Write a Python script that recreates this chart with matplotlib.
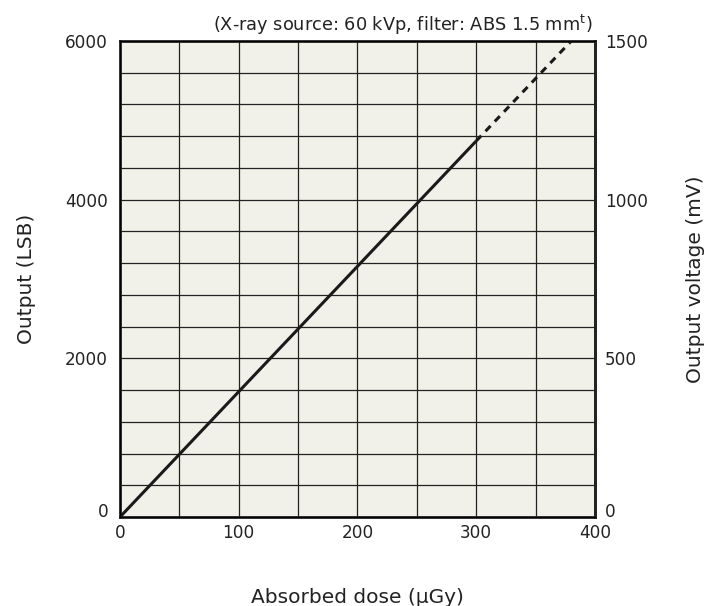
import matplotlib
matplotlib.use("Agg")
import matplotlib.pyplot as plt
import matplotlib.transforms as mtrans

# measured points (absorbed dose in uGy, output in LSB)
dose_solid = [0, 300]
lsb_solid = [0, 4740]
dose_dash = [300, 380]
lsb_dash = [4740, 6000]

x_ticks = [0, 100, 200, 300, 400]
y_ticks = [0, 2000, 4000, 6000]
mv_ticks = [0, 500, 1000, 1500]

plt.rcParams['font.family'] = ['DejaVu Sans']
ink = "#222222"

fig = plt.figure(figsize=(7.19, 6.06), dpi=100)
ax = fig.add_axes([0.1669, 0.1469, 0.6606, 0.7854])
ax.set_facecolor("#f2f1e9")

ax.plot(dose_solid, lsb_solid, color="#1a1a1a", lw=2.2, solid_capstyle="butt", zorder=3)
ax.plot(dose_dash, lsb_dash, color="#1a1a1a", lw=2.2, ls=(0, (2.4, 2.0)), zorder=3)

ax.set_xlim(0, 400)
ax.set_ylim(0, 6000)
ax.set_xticks(x_ticks, labels=[str(v) for v in x_ticks])
ax.set_xticks(range(0, 401, 50), minor=True)
ax.set_yticks(y_ticks, labels=[str(v) for v in y_ticks])
ax.set_yticks(range(0, 6001, 400), minor=True)
ax.grid(True, which="both", color=ink, lw=0.9)
ax.set_axisbelow(True)
ax.tick_params(which="both", length=0)
ax.tick_params(axis="y", labelsize=12.2, colors=ink, pad=8.5)
ax.tick_params(axis="x", labelsize=12.2, colors=ink, pad=5)
for s in ax.spines.values():
    s.set_linewidth(2)
    s.set_color(ink)

ax2 = ax.twinx()
ax2.set_ylim(0, 1500)
ax2.set_yticks(mv_ticks, labels=[str(v) for v in mv_ticks])
ax2.tick_params(length=0, labelsize=12.2, colors=ink, pad=7)
ax2.spines["right"].set_linewidth(2)
ax2.spines["right"].set_color(ink)

# the "0" labels on both y axes sit a little above the bottom spine
lift = mtrans.ScaledTranslation(0, 7 / 100, fig.dpi_scale_trans)
for lab in (ax.get_yticklabels()[0], ax2.get_yticklabels()[0]):
    lab.set_transform(lab.get_transform() + lift)

ax.set_xlabel("Absorbed dose (µGy)", fontsize=14.5, color=ink, labelpad=33)
ax.set_ylabel("Output (LSB)", fontsize=14.5, color=ink, labelpad=21)
ax2.set_ylabel("Output voltage (mV)", fontsize=14.5, color=ink, labelpad=27.5)

fig.text(593 / 719, 1 - 25 / 606, "(X-ray source: 60 kVp, filter: ABS 1.5 mm$^{\\mathregular{t}}$)",
         ha="right", va="center", fontsize=12.8, color=ink)

fig.savefig("out.png", dpi=100)
